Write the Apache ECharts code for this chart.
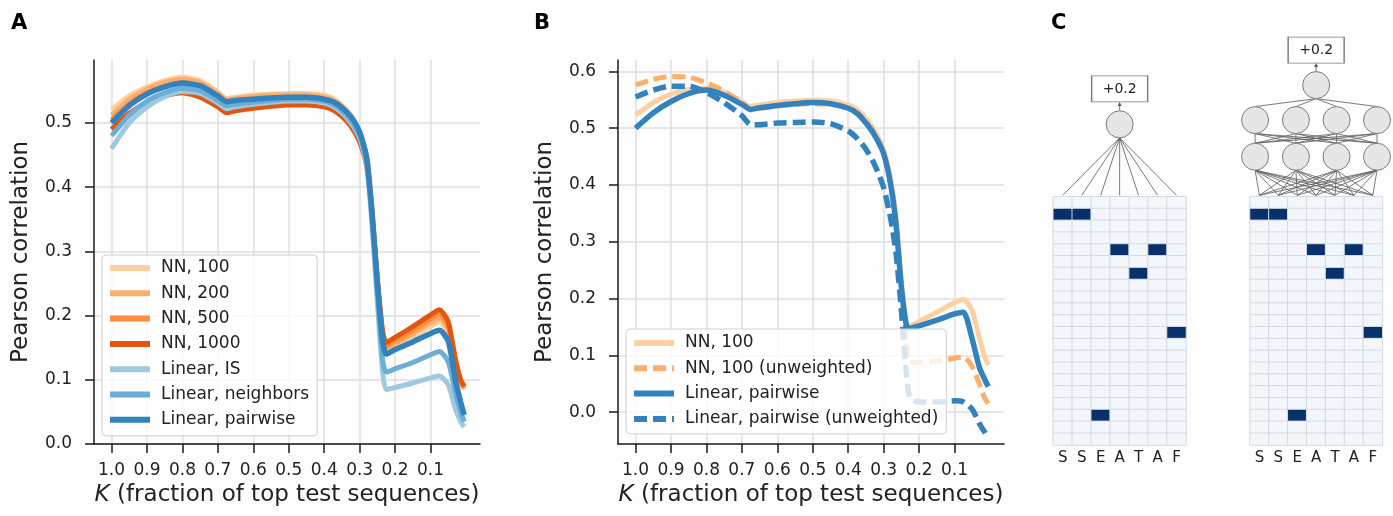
<!DOCTYPE html>
<html>
<head>
<meta charset="utf-8">
<script src="https://cdn.jsdelivr.net/npm/echarts@6/dist/echarts.min.js"></script>
<style>
  html, body { margin: 0; padding: 0; background: #fdfdfd; }
  #main { width: 1393px; height: 516px; }
</style>
</head>
<body>
<div id="main"></div>
<script>
// K = fraction of top test sequences (x axis, shown reversed)
var K = [1.0, 0.95, 0.9, 0.85, 0.8, 0.75, 0.7, 0.675, 0.65, 0.6, 0.55, 0.5, 0.45, 0.4, 0.375, 0.35,
  0.325, 0.3, 0.28, 0.265, 0.25, 0.235, 0.225, 0.2, 0.15, 0.1, 0.075, 0.05, 0.03, 0.015, 0.005];
var kTicks = [1.0, 0.9, 0.8, 0.7, 0.6, 0.5, 0.4, 0.3, 0.2, 0.1];
var yTicksA = [0, 0.1, 0.2, 0.3, 0.4, 0.5];
var yTicksB = [0, 0.1, 0.2, 0.3, 0.4, 0.5, 0.6];

// panel A
var nn100A = [0.520, 0.542, 0.556, 0.566, 0.571, 0.566, 0.548, 0.538, 0.540, 0.543, 0.545, 0.546, 0.546, 0.543, 0.538, 0.528,
  0.512, 0.486, 0.445, 0.360, 0.250, 0.160, 0.145, 0.152, 0.167, 0.183, 0.190, 0.172, 0.125, 0.095, 0.085];
var nn200A = [0.512, 0.537, 0.553, 0.563, 0.568, 0.563, 0.546, 0.536, 0.538, 0.541, 0.543, 0.544, 0.544, 0.540, 0.535, 0.525,
  0.509, 0.484, 0.443, 0.360, 0.250, 0.165, 0.148, 0.156, 0.172, 0.189, 0.196, 0.178, 0.128, 0.097, 0.087];
var nn500A = [0.505, 0.530, 0.547, 0.557, 0.562, 0.557, 0.540, 0.530, 0.532, 0.535, 0.537, 0.538, 0.537, 0.533, 0.528, 0.518,
  0.502, 0.478, 0.440, 0.360, 0.255, 0.170, 0.153, 0.161, 0.177, 0.195, 0.203, 0.184, 0.130, 0.098, 0.088];
var nn1000A = [0.490, 0.515, 0.532, 0.542, 0.547, 0.540, 0.525, 0.516, 0.519, 0.523, 0.526, 0.528, 0.528, 0.525, 0.520, 0.510,
  0.495, 0.470, 0.432, 0.355, 0.255, 0.175, 0.158, 0.166, 0.183, 0.201, 0.209, 0.190, 0.132, 0.100, 0.090];
var linIsA = [0.460, 0.500, 0.525, 0.541, 0.549, 0.546, 0.531, 0.522, 0.525, 0.529, 0.532, 0.534, 0.534, 0.531, 0.526, 0.516,
  0.500, 0.476, 0.435, 0.340, 0.220, 0.110, 0.085, 0.088, 0.095, 0.103, 0.106, 0.092, 0.055, 0.035, 0.027];
var linNeighA = [0.480, 0.512, 0.534, 0.547, 0.554, 0.550, 0.535, 0.527, 0.529, 0.532, 0.535, 0.537, 0.537, 0.534, 0.529, 0.519,
  0.504, 0.480, 0.440, 0.350, 0.235, 0.130, 0.112, 0.117, 0.127, 0.139, 0.144, 0.128, 0.080, 0.050, 0.035];
var linPairA = [0.500, 0.527, 0.545, 0.556, 0.562, 0.558, 0.542, 0.533, 0.535, 0.537, 0.539, 0.540, 0.540, 0.537, 0.533, 0.524,
  0.510, 0.486, 0.445, 0.360, 0.250, 0.160, 0.140, 0.147, 0.159, 0.172, 0.177, 0.160, 0.100, 0.065, 0.045];

// panel B
var nn100B = [0.523, 0.545, 0.560, 0.568, 0.570, 0.563, 0.547, 0.538, 0.541, 0.545, 0.548, 0.549, 0.548, 0.541, 0.533, 0.517,
  0.495, 0.462, 0.410, 0.340, 0.230, 0.155, 0.152, 0.160, 0.176, 0.193, 0.199, 0.178, 0.130, 0.098, 0.083];
var nn100uB = [0.576, 0.586, 0.591, 0.590, 0.580, 0.565, 0.545, 0.532, 0.535, 0.539, 0.542, 0.543, 0.542, 0.536, 0.528, 0.512,
  0.490, 0.458, 0.400, 0.330, 0.220, 0.120, 0.088, 0.088, 0.090, 0.095, 0.097, 0.080, 0.050, 0.025, 0.015];
var linPairB = [0.500, 0.527, 0.547, 0.561, 0.567, 0.558, 0.542, 0.533, 0.536, 0.540, 0.543, 0.545, 0.543, 0.535, 0.526, 0.509,
  0.487, 0.455, 0.400, 0.330, 0.220, 0.150, 0.148, 0.152, 0.162, 0.173, 0.176, 0.128, 0.079, 0.058, 0.045];
var linPairuB = [0.555, 0.567, 0.574, 0.574, 0.563, 0.545, 0.522, 0.506, 0.506, 0.509, 0.510, 0.511, 0.508, 0.495, 0.482, 0.463,
  0.435, 0.395, 0.340, 0.280, 0.180, 0.060, 0.025, 0.018, 0.018, 0.020, 0.018, 0.005, -0.020, -0.035, -0.045];

// panel C: one-hot sequence and network layout (columns, rows above the grid)
var seqLetters = ['S', 'S', 'E', 'A', 'T', 'A', 'F'];
var hotRows = [1, 1, 18, 4, 6, 4, 11];
var nRows = 21;
var inputCols = [0, 1, 2, 3, 4, 5, 6];
var hiddenCols = [-0.23, 1.93, 4.08, 6.22];
var linearLayers = [{ y: 0.12, xs: inputCols }, { y: 6.12, xs: [3] }];
var nnLayers = [{ y: 0.12, xs: inputCols }, { y: 3.38, xs: hiddenCols }, { y: 6.48, xs: hiddenCols }, { y: 9.44, xs: [3] }];
var linearOut = { x: 3, y: 9.12, text: '+0.2' };
var nnOut = { x: 3, y: 12.4, text: '+0.2' };

var FONT = 'DejaVu Sans';
var INK = '#1a1a1a';
var NODE_R = 13.5;

function pts(arr) {
  return K.map(function (k, i) { return [k, arr[i]]; });
}

function lineSeries(name, arr, color, width, dash, gi) {
  return {
    type: 'line', name: name, xAxisIndex: gi, yAxisIndex: gi,
    data: pts(arr), symbol: 'none', showSymbol: false, smooth: 0.22,
    lineStyle: { color: color, width: width, type: dash || 'solid', cap: 'butt' },
    itemStyle: { color: color },
    silent: true
  };
}

function plotX(gi) {
  return {
    type: 'value', gridIndex: gi, inverse: true, min: -0.0395, max: 1.0495,
    name: '{i|K} (fraction of top test sequences)', nameLocation: 'middle', nameGap: 35,
    nameTextStyle: { fontSize: 23, color: '#222', fontFamily: FONT,
      rich: { i: { fontStyle: 'italic', fontSize: 23, color: '#222', fontFamily: FONT } } },
    axisLine: { show: true, onZero: false, lineStyle: { color: INK, width: 1.5 } },
    axisTick: { show: true, length: 9, customValues: kTicks, lineStyle: { color: INK, width: 1.5 } },
    axisLabel: { customValues: kTicks, fontSize: 17, color: '#222', margin: 18,
      formatter: function (v) { return v.toFixed(1); } },
    splitLine: { show: true, lineStyle: { color: '#dedede', width: 1.5 } }
  };
}

function plotY(gi, min, max, ticks) {
  return {
    type: 'value', gridIndex: gi, min: min, max: max,
    name: 'Pearson correlation', nameLocation: 'middle', nameGap: 61,
    nameTextStyle: { fontSize: 23, color: '#222', fontFamily: FONT },
    axisLine: { show: true, onZero: false, lineStyle: { color: INK, width: 1.5 } },
    axisTick: { show: true, length: 9, customValues: ticks, lineStyle: { color: INK, width: 1.5 } },
    axisLabel: { customValues: ticks, fontSize: 17, color: '#222', margin: 22,
      formatter: function (v) { return v.toFixed(1); } },
    splitLine: { show: true, lineStyle: { color: '#dedede', width: 1.5 } }
  };
}

function legendBox(names, left, top, padding) {
  return {
    data: names, orient: 'vertical', left: left, top: top,
    itemWidth: 40, itemHeight: 14, itemGap: 7.3, padding: padding,
    itemStyle: { opacity: 0 },
    lineStyle: { width: 6 },
    backgroundColor: 'rgba(255,255,255,0.8)', borderColor: '#d0d0d0', borderWidth: 1, borderRadius: 4,
    textStyle: { fontSize: 17, color: '#222', fontFamily: FONT, lineHeight: 18, padding: [0, 0, 0, 6] },
    selectedMode: false
  };
}

// heatmap data for the one-hot grid
var hotCells = [];
for (var c = 0; c < seqLetters.length; c++) {
  for (var r = 0; r < nRows; r++) {
    hotCells.push([c, r, r === hotRows[c] ? 1 : 0]);
  }
}

function heatAxes(gi) {
  return {
    x: {
      type: 'category', gridIndex: gi, data: inputCols.map(String),
      axisLine: { show: false }, axisTick: { show: false }, splitLine: { show: false },
      axisLabel: { interval: 0, fontSize: 15, color: '#222', margin: 6,
        formatter: function (v) { return seqLetters[+v]; } }
    },
    y: {
      type: 'category', gridIndex: gi, inverse: true,
      data: Array.apply(null, Array(nRows)).map(function (_, i) { return String(i); }),
      show: false
    }
  };
}

function netAxes(gi) {
  return {
    x: { type: 'value', gridIndex: gi, min: -0.5, max: 6.5, show: false },
    y: { type: 'value', gridIndex: gi, min: 0, max: 14.1, show: false }
  };
}

function netSeries(layers, out, gi) {
  var edges = [];
  var nodes = [];
  for (var l = 0; l < layers.length - 1; l++) {
    layers[l].xs.forEach(function (a) {
      layers[l + 1].xs.forEach(function (b) {
        edges.push([a, layers[l].y, b, layers[l + 1].y]);
      });
    });
  }
  for (var m = 1; m < layers.length; m++) {
    layers[m].xs.forEach(function (a) { nodes.push([a, layers[m].y]); });
  }
  var top = layers[layers.length - 1];
  return [
    {
      type: 'custom', coordinateSystem: 'cartesian2d', xAxisIndex: gi, yAxisIndex: gi, silent: true, z: 2,
      data: edges,
      renderItem: function (params, api) {
        var lowY = api.value(1);
        var p1 = api.coord([api.value(0), lowY]);
        var p2 = api.coord([api.value(2), api.value(3)]);
        var r1 = lowY < 1 ? 0 : NODE_R;
        return {
          type: 'line',
          shape: { x1: p1[0], y1: p1[1] - r1, x2: p2[0], y2: p2[1] + NODE_R },
          style: { stroke: '#5a5a5a', lineWidth: 0.8 }
        };
      }
    },
    {
      type: 'scatter', xAxisIndex: gi, yAxisIndex: gi, silent: true, z: 3,
      data: nodes, symbol: 'circle', symbolSize: NODE_R * 2,
      itemStyle: { color: '#e6e6e6', borderColor: '#7d7d7d', borderWidth: 1, opacity: 1 }
    },
    {
      type: 'custom', coordinateSystem: 'cartesian2d', xAxisIndex: gi, yAxisIndex: gi, silent: true, z: 3,
      data: [[top.xs[0], top.y, out.y]],
      renderItem: function (params, api) {
        var p1 = api.coord([api.value(0), api.value(1)]);
        var p2 = api.coord([api.value(0), api.value(2)]);
        var y0 = p1[1] - NODE_R, y1 = p2[1] + 13;
        return {
          type: 'group',
          children: [
            { type: 'line', shape: { x1: p1[0], y1: y0, x2: p2[0], y2: y1 + 2 },
              style: { stroke: '#5a5a5a', lineWidth: 0.8 } },
            { type: 'polygon', shape: { points: [[p2[0], y1], [p2[0] - 2, y1 + 4], [p2[0] + 2, y1 + 4]] },
              style: { fill: '#5a5a5a' } }
          ]
        };
      }
    },
    {
      type: 'scatter', xAxisIndex: gi, yAxisIndex: gi, silent: true, z: 3,
      data: [[out.x, out.y]], symbol: 'rect', symbolSize: [56, 26],
      itemStyle: { color: '#ffffff', borderColor: '#7d7d7d', borderWidth: 1, opacity: 1 },
      label: { show: true, position: 'inside', formatter: out.text, fontSize: 14, color: '#222', fontFamily: FONT }
    }
  ];
}

var hL = heatAxes(2), hR = heatAxes(3), nL = netAxes(4), nR = netAxes(5);

var series = [
  lineSeries('NN, 100', nn100A, '#fdd0a2', 5, null, 0),
  lineSeries('NN, 200', nn200A, '#fdae6b', 5, null, 0),
  lineSeries('NN, 500', nn500A, '#fd8d3c', 5, null, 0),
  lineSeries('NN, 1000', nn1000A, '#e6550d', 5, null, 0),
  lineSeries('Linear, IS', linIsA, '#9ecae1', 5, null, 0),
  lineSeries('Linear, neighbors', linNeighA, '#6baed6', 5, null, 0),
  lineSeries('Linear, pairwise', linPairA, '#3182bd', 5.5, null, 0),
  lineSeries('NN, 100 ', nn100B, '#fdd0a2', 5, null, 1),
  lineSeries('NN, 100 (unweighted)', nn100uB, '#fdae6b', 5, [13, 6], 1),
  lineSeries('Linear, pairwise ', linPairB, '#3182bd', 5.5, null, 1),
  lineSeries('Linear, pairwise (unweighted)', linPairuB, '#3182bd', 5.5, [13, 6], 1),
  {
    type: 'heatmap', xAxisIndex: 2, yAxisIndex: 2, data: hotCells, silent: true,
    itemStyle: { borderColor: '#d4dae2', borderWidth: 1 }
  },
  {
    type: 'heatmap', xAxisIndex: 3, yAxisIndex: 3, data: hotCells, silent: true,
    itemStyle: { borderColor: '#d4dae2', borderWidth: 1 }
  }
].concat(netSeries(linearLayers, linearOut, 4), netSeries(nnLayers, nnOut, 5));

var option = {
  animation: false,
  backgroundColor: '#fdfdfd',
  textStyle: { fontFamily: FONT },
  grid: [
    { left: 94, top: 60, width: 386, height: 384, outerBoundsMode: 'none' },
    { left: 618, top: 60, width: 386, height: 384, outerBoundsMode: 'none' },
    { left: 1053.3, top: 196.7, width: 132.7, height: 248.3, outerBoundsMode: 'none' },
    { left: 1250, top: 196.7, width: 132.3, height: 248.3, outerBoundsMode: 'none' },
    { left: 1053.3, top: 30, width: 132.7, height: 166.7, outerBoundsMode: 'none' },
    { left: 1250, top: 30, width: 132.3, height: 166.7, outerBoundsMode: 'none' }
  ],
  xAxis: [plotX(0), plotX(1), hL.x, hR.x, nL.x, nR.x],
  yAxis: [plotY(0, 0, 0.598, yTicksA), plotY(1, -0.056, 0.62, yTicksB), hL.y, hR.y, nL.y, nR.y],
  legend: [
    legendBox(['NN, 100', 'NN, 200', 'NN, 500', 'NN, 1000', 'Linear, IS', 'Linear, neighbors', 'Linear, pairwise'],
      102, 255, [4, 8, 7, 5]),
    legendBox(['NN, 100 ', 'NN, 100 (unweighted)', 'Linear, pairwise ', 'Linear, pairwise (unweighted)'],
      626, 329, [5, 8, 6, 5])
  ],
  visualMap: {
    type: 'piecewise', show: false, seriesIndex: [11, 12], dimension: 2,
    pieces: [{ value: 0, color: '#f3f7fc' }, { value: 1, color: '#08306b' }]
  },
  graphic: [
    { type: 'text', left: 11, top: 13, style: { text: 'A', font: 'bold 21px "DejaVu Sans"', fill: '#000' } },
    { type: 'text', left: 534, top: 13, style: { text: 'B', font: 'bold 21px "DejaVu Sans"', fill: '#000' } },
    { type: 'text', left: 1051, top: 13, style: { text: 'C', font: 'bold 21px "DejaVu Sans"', fill: '#000' } }
  ],
  series: series
};

var chart = echarts.init(document.getElementById('main'), null, { renderer: 'canvas' });
chart.setOption(option);
</script>
</body>
</html>
